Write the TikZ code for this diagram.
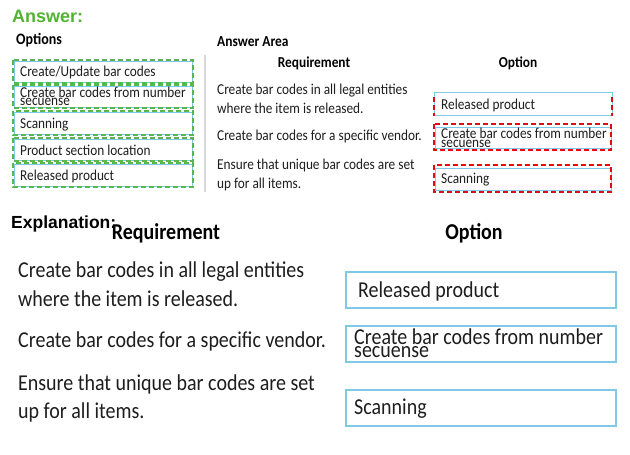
\documentclass[tikz,border=0pt]{standalone}
\usepackage{fontspec}
\setmainfont[FakeStretch=0.88]{Carlito}
\newfontfamily\arialfont{Liberation Sans}
\definecolor{ansgreen}{RGB}{82,178,52}
\definecolor{dashgreen}{RGB}{88,182,80}
\definecolor{boxblue}{RGB}{128,200,230}
\definecolor{dashred}{RGB}{228,10,20}
\definecolor{sepgray}{RGB}{215,215,215}
\definecolor{txt}{RGB}{30,30,30}
\tikzset{
  x=1pt, y=-1pt,
  txtnode/.style={anchor=base west, inner sep=0pt, text=txt},
  smalltxt/.style={txtnode, font=\fontsize{15.1}{15}\selectfont},
  bigtxt/.style={txtnode, font=\fontsize{22.7}{22}\selectfont},
  smallhead/.style={anchor=base, inner sep=0pt, text=black, font=\bfseries\fontsize{15.2}{15}\selectfont},
  bighead/.style={anchor=base, inner sep=0pt, text=black, font=\bfseries\fontsize{22.7}{22}\selectfont},
  greendash/.style={draw=dashgreen, line width=1.4pt, dash pattern=on 5pt off 3pt},
  reddash/.style={draw=dashred, line width=1.4pt, dash pattern=on 5pt off 3pt},
  bluebox/.style={draw=boxblue, line width=1pt},
  bigbox/.style={draw=boxblue, line width=1.6pt},
}
\begin{document}
\begin{tikzpicture}
\useasboundingbox[fill=white] (0,0) rectangle (630,455);
% ---------- Answer ----------
\node[anchor=base west, inner sep=0pt, text=ansgreen, font=\arialfont\bfseries\fontsize{18}{18}\selectfont] (ans) at (12,22) {Answer:};
\node[txtnode, text=black, font=\bfseries\fontsize{15.9}{15}\selectfont] (opts) at (16,45) {Options};
% option boxes (left)
\foreach \ya/\yb/\n in {60/83/1,85/108/2,111/135/3,138/161/4,163/187/5}{
  \draw[bluebox] (14,\ya+1) rectangle (192,\yb-1);
  \draw[greendash] (13,\ya) rectangle (193,\yb);
}
\node[smalltxt] (o1) at (20,76) {Create/Update bar codes};
\node[smalltxt] (o2a) at (20,97) {Create bar codes from number};
\node[smalltxt] (o2b) at (20,105) {secuense};
\node[smalltxt] (o3) at (20,128) {Scanning};
\node[smalltxt] (o4) at (20,155) {Product section location};
\node[smalltxt] (o5) at (20,180) {Released product};
% separator
\draw[sepgray, line width=1.2pt] (205,55) -- (205,192);
% answer area
\node[txtnode, text=black, font=\bfseries\fontsize{15.3}{15}\selectfont] (aa) at (217,46) {Answer Area};
\node[smallhead] (rh) at (314,67) {Requirement};
\node[smallhead] (oh) at (518,67) {Option};
\node[smalltxt] (r1a) at (217,94) {Create bar codes in all legal entities};
\node[smalltxt] (r1b) at (217,113) {where the item is released.};
\node[smalltxt] (r2) at (217,140) {Create bar codes for a specific vendor.};
\node[smalltxt] (r3a) at (217,169) {Ensure that unique bar codes are set};
\node[smalltxt] (r3b) at (217,188) {up for all items.};
% answer boxes
\draw[bluebox] (434,92) rectangle (612,115);
\draw[reddash] (434,97) -- (434,116);
\draw[reddash] (612,97) -- (612,116);
\draw[bluebox] (435,127) rectangle (611,148);
\draw[reddash] (434,124) rectangle (611,150);
\draw[bluebox] (435,168) rectangle (611,190);
\draw[reddash] (434,165) rectangle (611,192);
\node[smalltxt] (a1) at (441,109) {Released product};
\node[smalltxt] (a2a) at (441,138) {Create bar codes from number};
\node[smalltxt] (a2b) at (441,147) {secuense};
\node[smalltxt] (a3) at (441,183) {Scanning};
% ---------- Explanation ----------
\node[anchor=base west, inner sep=0pt, text=black, font=\arialfont\bfseries\fontsize{17.5}{17.5}\selectfont] (expl) at (11,228) {Explanation:};
\node[bighead] (erh) at (166,239) {Requirement};
\node[bighead] (eoh) at (474,239) {Option};
\node[bigtxt] (e1a) at (18,277) {Create bar codes in all legal entities};
\node[bigtxt] (e1b) at (18,306) {where the item is released.};
\node[bigtxt] (e2) at (18,347) {Create bar codes for a specific vendor.};
\node[bigtxt] (e3a) at (18,390) {Ensure that unique bar codes are set};
\node[bigtxt] (e3b) at (18,418) {up for all items.};
\draw[bigbox] (346,272) rectangle (616,308);
\draw[bigbox] (346,326) rectangle (616,362);
\draw[bigbox] (346,390) rectangle (616,426);
\node[bigtxt] (b1) at (358,297) {Released product};
\node[bigtxt] (b2a) at (354,344) {Create bar codes from number};
\node[bigtxt] (b2b) at (354,357) {secuense};
\node[bigtxt] (b3) at (354,414) {Scanning};
\end{tikzpicture}
\end{document}
